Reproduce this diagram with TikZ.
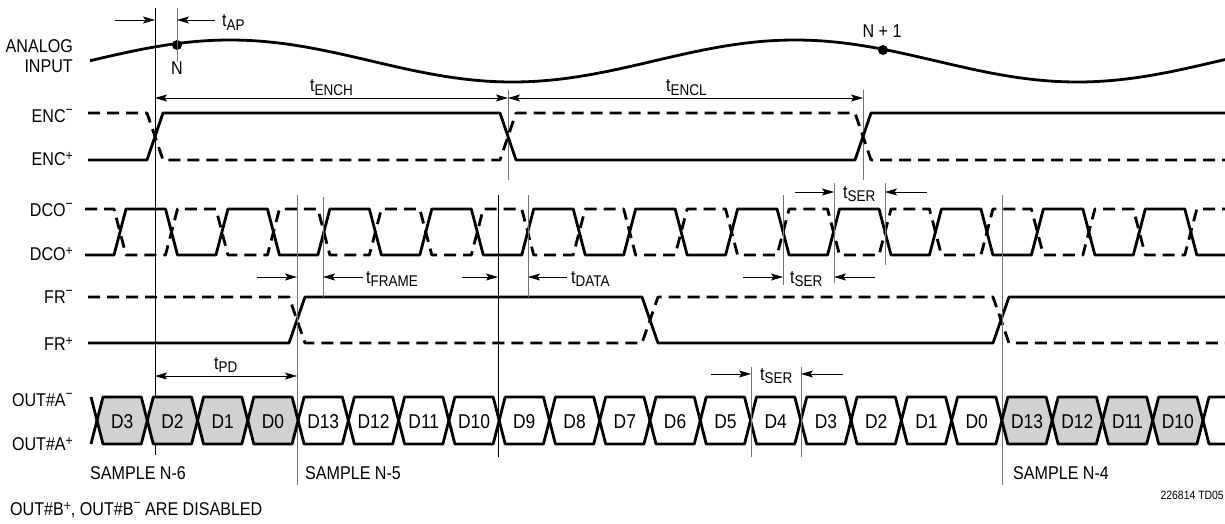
\documentclass[tikz,border=0pt]{standalone}
\usepackage{fontspec}
\setmainfont{Liberation Sans}[FakeStretch=0.87]
\usetikzlibrary{arrows.meta}
\newcommand\spl{\raisebox{4.5pt}{\fontsize{14}{14}\selectfont +}}
\newcommand\smi{\raisebox{7.5pt}{\fontsize{14}{14}\selectfont −}}
\newcommand\tsb[1]{t\raisebox{-3.5pt}{\fontsize{15.5}{15.5}\selectfont #1}}
\colorlet{busgray}{black!18}
\begin{document}
\begin{tikzpicture}[x=1pt,y=-1pt,
  every node/.style={inner sep=0pt, font=\fontsize{18.5}{20}\selectfont},
  sig/.style={line width=2.8pt, line join=round},
  dsig/.style={sig, dash pattern=on 12pt off 7pt},
  refg/.style={line width=0.9pt, black!55},
  refk/.style={line width=0.9pt, black},
  tip/.tip={Stealth[length=12pt,width=7pt,inset=2.5pt]},
  dim/.style={line width=0.9pt, -tip},
  ddim/.style={line width=0.9pt, tip-tip},
  lbl/.style={anchor=base east},
  tl/.style={anchor=base west},
  dlab/.style={anchor=base, font=\fontsize{20}{20}\selectfont}]
\useasboundingbox (0,0) rectangle (1225,524);
\fill[white] (0,0) rectangle (1225,524);

% ---------------- labels on the left
\node[lbl] (lanalog) at (73,53) {ANALOG};
\node[lbl] (linput) at (73,73) {INPUT};
\node[lbl] (lencm) at (73,122) {ENC\smi};
\node[lbl] (lencp) at (73,165) {ENC\spl};
\node[lbl] (ldcom) at (73,216) {DCO\smi};
\node[lbl] (ldcop) at (73,260) {DCO\spl};
\node[lbl] (lfrm) at (73,303) {FR\smi};
\node[lbl] (lfrp) at (73,350) {FR\spl};
\node[lbl] (loutm) at (73,406) {OUT\#A\smi};
\node[lbl] (loutp) at (73,450) {OUT\#A\spl};

% ---------------- analog input
\draw[sig] plot[domain=90:1225, samples=140, smooth] (\x,{61-21*cos((\x-230)*0.637168)});
\node[circle, fill, minimum size=10pt, inner sep=0pt] (dN) at (177,45) {};
\node[circle, fill, minimum size=10pt, inner sep=0pt] (dN1) at (883,50) {};
\node[anchor=base] (lN) at (177,75) {N};
\node[anchor=base] (lN1) at (882,38) {N + 1};

% ---------------- reference lines
\coordinate (v155t) at (155,8);   \coordinate (v155b) at (155,455);
\coordinate (v177t) at (177,8);   \coordinate (v177b) at (177,62);
\draw[refk] (v155t) -- (v155b);
\draw[refg] (v177t) -- (v177b);
\coordinate (ap1) at (115,20); \coordinate (ap2) at (155,20);
\coordinate (ap3) at (215,20); \coordinate (ap4) at (177,20);
\draw[dim] (ap1) -- (ap2);
\draw[dim] (ap3) -- (ap4);
\node[tl] (ltap) at (222,27) {\tsb{AP}};

% ---------------- ENC
\draw[refg] (508,90) -- (508,180);
\draw[refg] (863,90) -- (863,180);
\coordinate (e1) at (155,98); \coordinate (e2) at (508,98); \coordinate (e3) at (863,98);
\draw[ddim] (e1) -- (e2);
\draw[ddim] (e2) -- (e3);
\node[tl] (ltench) at (310,92) {\tsb{ENCH}};
\node[tl] (ltencl) at (666,92) {\tsb{ENCL}};
\draw[sig] (88,160) -- (147,160) -- (163,113) -- (500,113) -- (516,160) -- (855,160) -- (871,113) -- (1225,113);
\draw[dsig] (88,113) -- (147,113) -- (163,160) -- (500,160) -- (516,113) -- (855,113) -- (871,160) -- (1225,160);

% ---------------- DCO
\draw[sig] (85,255) foreach \k in {0,...,10}{
  -- ({120+101.93*\k-6},255) -- ({120+101.93*\k+6},209)
  -- ({171.5+101.93*\k-6},209) -- ({171.5+101.93*\k+6},255)} -- (1225,255);
\draw[dsig] (85,209) foreach \k in {0,...,10}{
  -- ({120+101.93*\k-6},209) -- ({120+101.93*\k+6},255)
  -- ({171.5+101.93*\k-6},255) -- ({171.5+101.93*\k+6},209)} -- (1225,209);

% ---------------- FR
\draw[sig] (88,343) -- (289,343) -- (305,297) -- (642,297) -- (658,343) -- (993,343) -- (1009,297) -- (1225,297);
\draw[dsig] (88,297) -- (289,297) -- (305,343) -- (642,343) -- (658,297) -- (993,297) -- (1009,343) -- (1225,343);

% ---------------- timing lines in DCO / FR area
\draw[refg] (297,195) -- (297,485);
\draw[refg] (323,197) -- (323,297);
\draw[refk] (498,195) -- (498,457);
\draw[refg] (528,195) -- (528,297);
\draw[refg] (783,195) -- (783,285);
\draw[refg] (834,183) -- (834,283);
\draw[refg] (885,183) -- (885,265);
\draw[refg] (1002,195) -- (1002,485);

\draw[dim] (257,277) -- (297,277);
\draw[dim] (363,277) -- (323,277);
\node[tl] (ltframe) at (366,283) {\tsb{FRAME}};
\draw[dim] (462,277) -- (498,277);
\draw[dim] (567,277) -- (528,277);
\node[tl] (ltdata) at (571,283) {\tsb{DATA}};
\draw[dim] (743,277) -- (783,277);
\draw[dim] (875,277) -- (834,277);
\node[tl] (ltser2) at (790,283) {\tsb{SER}};
\draw[dim] (795,192) -- (834,192);
\draw[dim] (927,192) -- (885,192);
\node[tl] (ltser1) at (843,198) {\tsb{SER}};

% ---------------- OUT bus
\foreach \i/\f in {0/busgray,1/busgray,2/busgray,3/busgray,4/white,5/white,6/white,7/white,8/white,9/white,10/white,11/white,12/white,13/white,14/white,15/white,16/white,17/white,18/busgray,19/busgray,20/busgray,21/busgray}{
  \pgfmathsetmacro\a{97+50.27*\i}
  \pgfmathsetmacro\b{\a+50.27}
  \fill[\f] (\a,420.5) -- (\a+6,397) -- (\b-6,397) -- (\b,420.5) -- (\b-6,444) -- (\a+6,444) -- cycle;
}
\foreach \i in {0,...,21}{
  \pgfmathsetmacro\a{97+50.27*\i}
  \pgfmathsetmacro\b{\a+50.27}
  \draw[sig] (\a,420.5) -- (\a+6,397) -- (\b-6,397) -- (\b,420.5) -- (\b-6,444) -- (\a+6,444) -- cycle;
}
\foreach \i/\t in {0/D3,1/D2,2/D1,3/D0,4/D13,5/D12,6/D11,7/D10,8/D9,9/D8,10/D7,11/D6,12/D5,13/D4,14/D3,15/D2,16/D1,17/D0,18/D13,19/D12,20/D11,21/D10}{
  \pgfmathsetmacro\c{97+50.27*\i+25.135}
  \node[dlab] (d\i) at (\c,428) {\t};
}
\draw[sig] (91,397) -- (97,420.5) -- (91,444);
\draw[sig] (1225,397) -- (1209,397) -- (1203,420.5) -- (1209,444) -- (1225,444);

% ---------------- OUT annotations
\draw[refg] (751,367) -- (751,457);
\draw[refg] (801,367) -- (801,457);
\draw[dim] (711,374) -- (751,374);
\draw[dim] (843,374) -- (801,374);
\node[tl] (ltser3) at (760,380) {\tsb{SER}};
\coordinate (pd1) at (155,376); \coordinate (pd2) at (297,376);
\draw[ddim] (pd1) -- (pd2);
\node[tl] (ltpd) at (214,369) {\tsb{PD}};

\node[tl] (s6) at (90,479) {SAMPLE N-6};
\node[tl] (s5) at (305,479) {SAMPLE N-5};
\node[tl] (s4) at (1013,479) {SAMPLE N-4};
\node[tl] (dis) at (10,515) {OUT\#B\spl, OUT\#B\smi\ ARE DISABLED};
\node[anchor=base east, font=\fontsize{12}{12}\selectfont] (code) at (1224,499) {226814 TD05};
\end{tikzpicture}
\end{document}
